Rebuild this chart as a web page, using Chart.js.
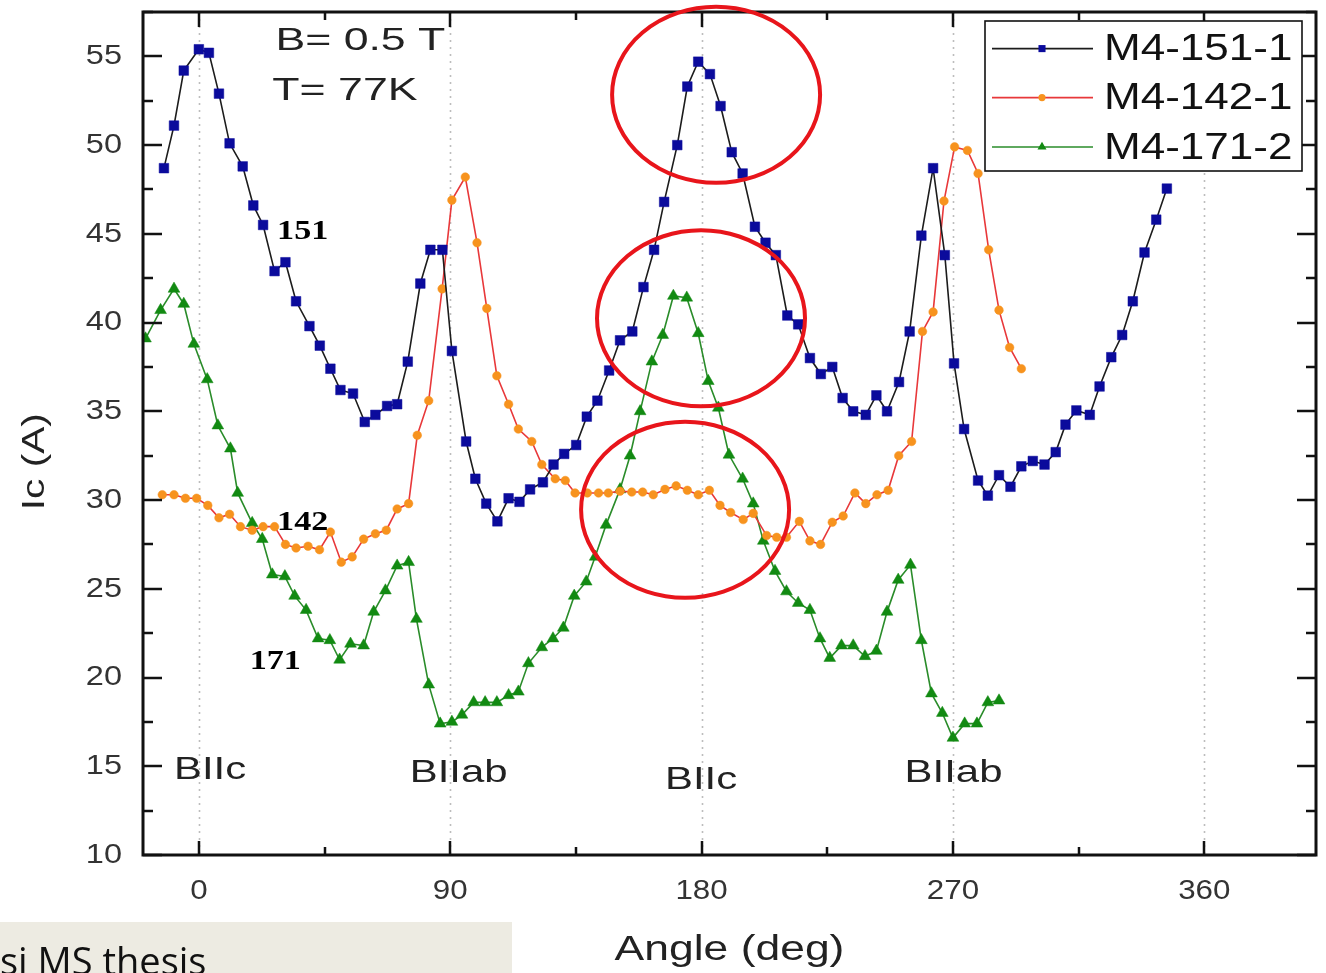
<!DOCTYPE html>
<html>
<head>
<meta charset="utf-8">
<script src="https://cdn.jsdelivr.net/npm/chart.js@4/dist/chart.umd.min.js"></script>
<style>
html,body{margin:0;padding:0;background:#fff;overflow:hidden}
canvas{display:block}
</style>
</head>
<body>
<canvas id="c" width="1326" height="973"></canvas>
<script>
// ---------------- data ----------------
const seriesNames = ['M4-151-1', 'M4-142-1', 'M4-171-2'];

const angle151 = [-12.5,-8.9,-5.4,0,3.6,7.2,11.0,15.7,19.5,23.0,27.1,31.0,34.8,39.6,43.3,47.1,50.7,55.2,59.4,63.2,67.4,71.0,74.8,79.3,82.9,87.2,90.6,95.7,99.0,102.9,106.9,110.9,114.8,118.6,123.2,127.0,130.8,135.1,138.9,142.7,146.9,150.8,155.2,159.2,163.0,166.6,171.3,174.9,178.8,183.0,186.8,190.8,194.7,199.1,202.9,206.6,210.7,214.6,218.8,222.7,226.8,230.5,234.3,238.8,242.6,246.4,250.7,254.5,258.7,262.9,267.1,270.4,274.0,279.0,282.5,286.5,290.6,294.5,298.6,302.8,306.8,310.3,314.2,319.0,322.5,326.7,330.6,334.4,338.6,342.8,346.6];
const ic151 = [48.7,51.1,54.2,55.4,55.2,52.9,50.1,48.8,46.6,45.5,42.9,43.4,41.2,39.8,38.7,37.4,36.2,36.0,34.4,34.8,35.3,35.4,37.8,42.2,44.1,44.1,38.4,33.3,31.2,29.8,28.8,30.1,29.9,30.6,31.0,32.0,32.6,33.1,34.7,35.6,37.3,39.0,39.5,42.0,44.1,46.8,50.0,53.3,54.7,54.0,52.2,49.6,48.4,45.4,44.5,43.8,40.4,39.9,38.0,37.1,37.5,35.75,35.0,34.8,35.9,35.0,36.65,39.5,44.9,48.7,43.8,37.7,34.0,31.1,30.25,31.4,30.75,31.9,32.2,32.0,32.7,34.25,35.05,34.8,36.4,38.05,39.3,41.2,43.95,45.8,47.55];

const angle142 = [-13.1,-8.9,-4.8,-0.8,3.2,7.2,11.0,14.9,19.1,23.0,27.1,31.0,34.8,39.1,43.2,47.1,51.0,54.9,59.0,63.2,67.1,71.0,75.1,78.2,82.3,87.1,90.6,95.4,99.6,103.1,106.7,110.9,114.4,119.2,122.8,127.6,131.2,134.7,139.1,143.1,146.6,150.8,155.0,158.9,162.7,166.9,170.9,174.9,178.8,182.8,186.6,190.4,194.9,198.5,203.3,206.9,210.4,215.0,218.8,222.6,226.8,230.7,234.9,238.8,242.8,246.8,250.6,255.2,259.1,262.9,266.8,270.6,275.2,279.0,282.8,286.5,290.3,294.5];
const ic142 = [30.3,30.3,30.1,30.1,29.7,29.0,29.2,28.5,28.3,28.5,28.5,27.5,27.3,27.4,27.2,28.2,26.5,26.8,27.8,28.1,28.3,29.5,29.8,33.65,35.6,41.9,46.9,48.2,44.5,40.8,37.0,35.4,34.0,33.3,32.0,31.2,31.1,30.4,30.4,30.4,30.4,30.5,30.45,30.45,30.3,30.6,30.8,30.55,30.3,30.55,29.7,29.3,28.9,29.25,28.0,27.9,27.9,28.8,27.7,27.5,28.75,29.1,30.4,29.8,30.3,30.55,32.5,33.3,39.5,40.6,46.85,49.9,49.7,48.4,44.1,40.7,38.6,37.4];

const angle171 = [-19.1,-13.7,-8.9,-5.4,-1.8,3.0,6.8,11.3,13.9,19.1,22.7,26.3,30.8,34.3,38.4,42.7,46.9,50.4,54.3,59.0,62.6,66.8,71.0,75.1,77.9,82.3,86.4,90.6,94.2,98.4,102.5,106.7,110.9,114.4,118.0,122.8,126.8,130.5,134.4,138.7,141.9,145.8,150.8,154.4,158.0,162.2,166.1,169.9,174.7,178.8,182.4,186.0,189.8,194.7,198.5,202.1,206.3,210.4,214.6,218.8,222.4,225.9,230.1,234.3,238.5,242.6,246.4,250.4,254.8,258.7,262.3,266.2,270.0,274.2,278.6,282.5,286.5];
const ic171 = [39.1,40.7,41.9,41.05,38.8,36.8,34.2,32.9,30.4,28.7,27.8,25.8,25.7,24.6,23.8,22.2,22.1,21.0,21.9,21.8,23.7,24.9,26.3,26.5,23.3,19.6,17.4,17.5,17.9,18.6,18.6,18.6,19.0,19.2,20.8,21.7,22.2,22.8,24.6,25.4,26.8,28.6,30.6,32.5,35.0,37.8,39.3,41.5,41.4,39.4,36.7,35.2,32.55,31.2,29.8,27.7,26.0,24.85,24.2,23.8,22.2,21.1,21.8,21.8,21.2,21.5,23.7,25.5,26.35,22.1,19.1,18.0,16.6,17.4,17.4,18.6,18.7];

const xMajorTicks = [0, 90, 180, 270, 360];
const xMinorTicks = [45, 135, 225, 315];
const xMin = -20, xMax = 400;
const yMin = 10, yMax = 57.5, yTickStep = 2.5, yLabelStep = 5;
const xAxisTitle = 'Angle (deg)';
const yAxisTitle = 'Ic (A)';

// text annotations (positions in data units)
const noteTexts = ['B= 0.5 T', 'T= 77K', '151', '142', '171', 'BIIc', 'BIIab', 'BIIc', 'BIIab'];
const noteX =     [27.4, 26.3, 28.0, 28.0, 18.2, -8.9, 75.5, 166.9, 252.7];
const noteY =     [55.38, 52.56, 44.7, 28.32, 20.47, 14.27, 14.13, 13.72, 14.11];
const noteKind =  ['info','info','num','num','num','dir','dir','dir','dir'];

// red highlight ellipses (centres in data units)
const ringX = [185.2, 179.8, 174.1];
const ringY = [52.84, 40.24, 29.45];

// ---------------- styles ----------------
const FONT = "'Liberation Sans', Arial, sans-serif";
const lineColors = ['#1c1c1c', '#e8383a', '#2a8c2a'];
const markColors = ['#0b0b9c', '#f7931e', '#128a12'];
const markStyles = ['rect', 'circle', 'triangle'];
const markRadius = [6.8, 4.3, 6.8];

// horizontal text stretch (the original figure is horizontally stretched)
let STRETCH_ON = false;
function sxFor(font) {
  const m = /(\d+(?:\.\d+)?)px/.exec(font);
  const s = m ? +m[1] : 12;
  return s >= 30 ? 1.27 : 1.16;
}
const stretchPlugin = {
  id: 'stretchText',
  beforeInit(chart) {
    const ctx = chart.ctx;
    const orig = ctx.fillText;
    ctx.fillText = function (t, x, y, w) {
      if (!STRETCH_ON) {
        return (w === undefined) ? orig.call(this, t, x, y) : orig.call(this, t, x, y, w);
      }
      const sx = sxFor(this.font);
      this.save();
      this.translate(x, y);
      this.scale(sx, 1);
      if (w === undefined) orig.call(this, t, 0, 0); else orig.call(this, t, 0, 0, w / sx);
      this.restore();
    };
  },
  beforeDraw() { STRETCH_ON = true; },
  afterDraw() { STRETCH_ON = false; }
};

function sText(ctx, str, x, y, font, color, sx) {
  ctx.save();
  ctx.font = font;
  ctx.fillStyle = color;
  ctx.textAlign = 'left';
  ctx.textBaseline = 'alphabetic';
  ctx.translate(x, y);
  ctx.scale(sx, 1);
  ctx.fillText(str, 0, 0);
  ctx.restore();
}

function drawMark(ctx, style, x, y, r, color) {
  ctx.save();
  ctx.fillStyle = color;
  ctx.beginPath();
  if (style === 'rect') {
    const s = r * Math.SQRT1_2;
    ctx.rect(x - s, y - s, 2 * s, 2 * s);
  } else if (style === 'circle') {
    ctx.arc(x, y, r, 0, Math.PI * 2);
  } else {
    ctx.moveTo(x, y - r);
    ctx.lineTo(x + r * Math.sin(Math.PI * 2 / 3), y + r * 0.5);
    ctx.lineTo(x - r * Math.sin(Math.PI * 2 / 3), y + r * 0.5);
    ctx.closePath();
  }
  ctx.fill();
  ctx.restore();
}

const decorPlugin = {
  id: 'decor',
  beforeDatasetsDraw(chart) {
    const {ctx, chartArea: a, scales: {x}} = chart;
    ctx.save();
    ctx.strokeStyle = '#bdbdbd';
    ctx.lineWidth = 1.6;
    ctx.setLineDash([2, 5]);
    xMajorTicks.forEach(v => {
      const px = Math.round(x.getPixelForValue(v)) + 0.5;
      ctx.beginPath();
      ctx.moveTo(px, a.top);
      ctx.lineTo(px, a.bottom);
      ctx.stroke();
    });
    ctx.restore();
  },
  afterDatasetsDraw(chart) {
    const {ctx, chartArea: a, scales: {x, y}} = chart;
    ctx.save();
    ctx.setLineDash([]);
    ctx.strokeStyle = '#111';
    ctx.lineWidth = 2.5;
    ctx.beginPath();
    for (let v = yMin; v <= yMax + 1e-9; v += yTickStep) {
      const py = Math.round(y.getPixelForValue(v));
      const major = Math.abs(v / yLabelStep - Math.round(v / yLabelStep)) < 1e-9;
      const len = major ? 19 : 10;
      ctx.moveTo(a.left, py); ctx.lineTo(a.left + len, py);
      ctx.moveTo(a.right, py); ctx.lineTo(a.right - len, py);
    }
    xMajorTicks.forEach(v => {
      const px = Math.round(x.getPixelForValue(v));
      ctx.moveTo(px, a.bottom); ctx.lineTo(px, a.bottom - 14);
      ctx.moveTo(px, a.top); ctx.lineTo(px, a.top + 15);
    });
    xMinorTicks.forEach(v => {
      const px = Math.round(x.getPixelForValue(v));
      ctx.moveTo(px, a.bottom); ctx.lineTo(px, a.bottom - 8);
      ctx.moveTo(px, a.top); ctx.lineTo(px, a.top + 8);
    });
    ctx.stroke();
    ctx.lineWidth = 3;
    ctx.strokeRect(a.left, a.top, a.right - a.left, a.bottom - a.top);
    ctx.restore();
  },
  afterDraw(chart) {
    STRETCH_ON = false;
    const {ctx, chartArea: a, scales: {x, y}} = chart;

    // text annotations
    noteTexts.forEach((t, i) => {
      const px = x.getPixelForValue(noteX[i]);
      const py = y.getPixelForValue(noteY[i]);
      if (noteKind[i] === 'info') sText(ctx, t, px, py, '31px ' + FONT, '#222', 1.44);
      else if (noteKind[i] === 'num') sText(ctx, t, px, py, "bold 28px 'Liberation Serif', 'Times New Roman', serif", '#000', 1.22);
      else sText(ctx, t, px, py, '32px ' + FONT, '#222', 1.31);
    });

    // legend box
    const lx = a.right - 331, ly = a.top + 9, lw = 317, lh = 150;
    ctx.save();
    ctx.fillStyle = '#fff';
    ctx.fillRect(lx, ly, lw, lh);
    ctx.strokeStyle = '#111';
    ctx.lineWidth = 1.6;
    ctx.strokeRect(lx, ly, lw, lh);
    ctx.restore();
    const rowY = [27.6, 76.6, 126];
    const legR = [5, 3.6, 5.2];
    seriesNames.forEach((name, i) => {
      const ry = ly + rowY[i];
      ctx.save();
      ctx.strokeStyle = lineColors[i];
      ctx.lineWidth = 1.6;
      ctx.beginPath();
      ctx.moveTo(lx + 7, ry);
      ctx.lineTo(lx + 108, ry);
      ctx.stroke();
      ctx.restore();
      drawMark(ctx, markStyles[i], lx + 57, ry, legR[i], markColors[i]);
      sText(ctx, name, lx + 119, ry + 11.8, '37px ' + FONT, '#111', 1.19);
    });

    // red ellipses
    ctx.save();
    ctx.strokeStyle = '#e8151b';
    ctx.lineWidth = 4;
    ringX.forEach((cx, i) => {
      const px = x.getPixelForValue(cx);
      const py = y.getPixelForValue(ringY[i]);
      ctx.beginPath();
      ctx.ellipse(px, py, 104, 88, 0, 0, Math.PI * 2);
      ctx.stroke();
    });
    ctx.restore();

    // grey caption box (bottom-left)
    ctx.save();
    ctx.fillStyle = '#edebe2';
    ctx.fillRect(0, 922, 512, 51);
    ctx.fillStyle = '#111';
    ctx.font = "38px 'Open Sans', 'Noto Sans', sans-serif";
    ctx.textBaseline = 'alphabetic';
    ctx.fillText('si MS thesis', 0, 975);
    ctx.restore();
  }
};

// ---------------- chart ----------------
const allAngles = [angle151, angle142, angle171];
const allIc = [ic151, ic142, ic171];

const datasets = seriesNames.map((name, i) => ({
  label: name,
  data: allAngles[i].map((a, k) => ({x: a, y: allIc[i][k]})),
  borderColor: lineColors[i],
  borderWidth: 1.6,
  backgroundColor: markColors[i],
  pointStyle: markStyles[i],
  pointRadius: markRadius[i],
  pointBackgroundColor: markColors[i],
  pointBorderColor: markColors[i],
  pointBorderWidth: 0.5,
  tension: 0,
  fill: false
}));

new Chart(document.getElementById('c'), {
  type: 'line',
  data: {datasets},
  plugins: [stretchPlugin, decorPlugin],
  options: {
    responsive: false,
    animation: false,
    devicePixelRatio: 1,
    layout: {padding: {top: 12, right: 10, left: 0, bottom: 0}},
    plugins: {legend: {display: false}, tooltip: {enabled: false}},
    scales: {
      x: {
        type: 'linear',
        min: xMin,
        max: xMax,
        grid: {display: false, drawTicks: false},
        border: {display: false},
        afterBuildTicks: s => { s.ticks = xMajorTicks.map(v => ({value: v})); },
        afterFit: s => { s.height = 118; s.paddingLeft = 0; s.paddingRight = 0; s.paddingTop = 0; s.paddingBottom = 0; },
        ticks: {
          autoSkip: false,
          maxRotation: 0,
          padding: 20,
          color: '#333',
          font: {family: FONT, size: 27},
          callback: v => String(v)
        },
        title: {
          display: true,
          text: xAxisTitle,
          color: '#222',
          font: {family: FONT, size: 35},
          padding: {top: 0, bottom: 2}
        }
      },
      y: {
        type: 'linear',
        min: yMin,
        max: yMax,
        grid: {display: false, drawTicks: false},
        border: {display: false},
        afterFit: s => { s.width = 143; s.paddingTop = 0; s.paddingBottom = 0; s.paddingLeft = 0; s.paddingRight = 0; },
        ticks: {
          stepSize: yTickStep,
          autoSkip: false,
          padding: 21,
          color: '#333',
          font: {family: FONT, size: 28},
          callback: v => (Math.abs(v / yLabelStep - Math.round(v / yLabelStep)) < 1e-9 ? String(v) : '')
        },
        title: {
          display: true,
          text: yAxisTitle + '     ',
          color: '#222',
          font: {family: FONT, size: 32},
          padding: {top: 16, bottom: 0}
        }
      }
    }
  }
});
</script>
</body>
</html>
